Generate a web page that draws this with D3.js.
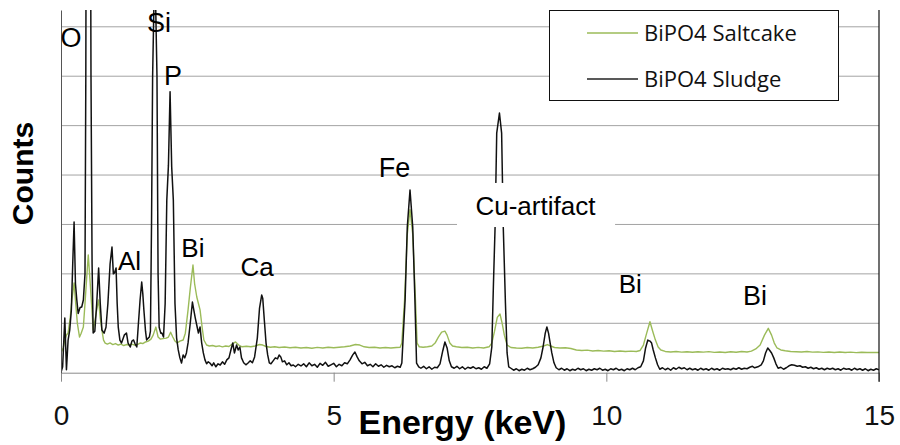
<!DOCTYPE html>
<html>
<head>
<meta charset="utf-8">
<script src="https://cdn.jsdelivr.net/npm/d3@7"></script>
<style>
  body { margin: 0; background: #fff; }
  svg { display: block; }
  text { font-family: "Liberation Sans", Arial, sans-serif; }
</style>
</head>
<body>
<svg id="chart" width="900" height="445"></svg>
<script>
// ---- data ----------------------------------------------------------------
const energyTicks = [0, 5, 10, 15];
const countGridValues = [500, 1000, 1500, 2000, 2500, 3000, 3500];
const seriesNames = ["BiPO4 Saltcake", "BiPO4 Sludge"];

// [energy keV, counts]
const saltcakeSpectrum = [
  [0.00,200],[0.04,250],[0.07,331],[0.10,380],[0.13,402],[0.17,560],[0.20,736],[0.24,908],[0.27,700],[0.30,500],
  [0.34,361],[0.37,400],[0.41,462],[0.44,700],[0.47,950],[0.50,1191],[0.53,950],[0.56,700],[0.59,432],[0.62,520],
  [0.655,635],[0.69,736],[0.72,550],[0.75,432],[0.78,330],[0.81,300],[0.85,290],[0.90,301],[0.95,285],[1.00,295],
  [1.05,280],[1.10,290],[1.15,275],[1.20,285],[1.25,280],[1.30,290],[1.35,278],[1.40,285],[1.45,300],[1.50,295],
  [1.55,311],[1.60,320],[1.65,340],[1.69,380],[1.74,462],[1.78,361],[1.82,340],[1.87,345],[1.93,350],[1.97,361],
  [2.01,410],[2.05,361],[2.09,320],[2.13,300],[2.18,320],[2.24,331],[2.28,400],[2.33,635],[2.37,850],[2.42,1090],
  [2.45,900],[2.49,766],[2.52,700],[2.55,635],[2.59,450],[2.62,331],[2.67,280],[2.72,270],[2.78,275],[2.84,265],
  [2.90,272],[2.96,262],[3.02,270],[3.08,265],[3.14,290],[3.20,311],[3.26,280],[3.32,262],[3.40,268],[3.48,262],
  [3.56,270],[3.64,285],[3.70,280],[3.76,265],[3.84,258],[3.92,262],[4.00,255],[4.10,260],[4.20,252],[4.30,258],
  [4.40,250],[4.50,255],[4.60,248],[4.70,256],[4.80,250],[4.90,258],[5.00,252],[5.10,258],[5.20,262],[5.30,270],
  [5.40,285],[5.48,280],[5.56,262],[5.65,255],[5.75,258],[5.85,250],[5.95,255],[6.05,250],[6.15,255],[6.22,258],
  [6.25,300],[6.30,736],[6.35,1400],[6.40,1650],[6.45,1400],[6.50,736],[6.53,300],[6.57,262],[6.64,258],[6.72,262],
  [6.80,270],[6.86,300],[6.92,360],[6.98,410],[7.04,420],[7.08,380],[7.13,300],[7.18,270],[7.25,262],[7.35,255],
  [7.45,258],[7.55,250],[7.65,256],[7.75,250],[7.85,262],[7.90,300],[7.95,420],[8.00,560],[8.05,594],[8.09,500],
  [8.13,380],[8.18,280],[8.25,255],[8.35,250],[8.45,248],[8.55,255],[8.65,250],[8.75,258],[8.85,270],[8.92,285],
  [8.98,270],[9.05,255],[9.15,250],[9.25,252],[9.35,245],[9.45,230],[9.55,225],[9.65,228],[9.75,220],[9.85,225],
  [9.95,218],[10.05,222],[10.15,215],[10.25,220],[10.35,214],[10.45,218],[10.55,215],[10.62,225],[10.68,280],[10.74,400],
  [10.80,516],[10.85,420],[10.90,330],[10.95,260],[11.00,230],[11.08,215],[11.18,210],[11.28,215],[11.38,208],[11.48,212],
  [11.58,207],[11.68,212],[11.78,208],[11.88,213],[11.98,206],[12.08,210],[12.18,205],[12.28,212],[12.38,207],[12.48,214],
  [12.58,210],[12.66,218],[12.74,240],[12.82,280],[12.90,380],[12.97,449],[13.03,380],[13.08,300],[13.13,250],[13.20,230],
  [13.28,222],[13.38,215],[13.48,212],[13.58,210],[13.68,214],[13.78,208],[13.88,211],[13.98,206],[14.08,210],[14.18,205],
  [14.28,209],[14.38,204],[14.48,208],[14.58,203],[14.68,207],[14.78,204],[14.88,206],[15.00,205]
];

const sludgeSpectrum = [
  [0.00,5],[0.03,60],[0.07,554],[0.10,30],[0.13,330],[0.16,430],[0.19,635],[0.215,1100],[0.24,1525],[0.265,900],
  [0.29,736],[0.315,600],[0.35,660],[0.38,665],[0.41,736],[0.44,1000],[0.455,3000],[0.47,7000],[0.50,9000],[0.53,7000],
  [0.55,3000],[0.57,1100],[0.59,402],[0.62,420],[0.655,700],[0.69,1060],[0.72,700],[0.75,432],[0.79,400],[0.825,460],
  [0.86,700],[0.90,1100],[0.935,1272],[0.96,1000],[0.98,1009],[1.01,1060],[1.03,700],[1.05,462],[1.08,330],[1.11,300],
  [1.16,380],[1.20,402],[1.23,300],[1.27,260],[1.30,320],[1.33,331],[1.36,290],[1.39,260],[1.42,500],[1.45,736],
  [1.48,918],[1.50,800],[1.52,635],[1.55,420],[1.57,331],[1.60,350],[1.62,361],[1.64,420],[1.66,1500],[1.68,3000],
  [1.72,4200],[1.76,3000],[1.78,1000],[1.80,460],[1.83,400],[1.85,402],[1.88,361],[1.91,700],[1.94,1746],[1.97,2100],
  [2.00,2844],[2.03,2080],[2.06,1746],[2.09,700],[2.12,350],[2.15,230],[2.18,150],[2.21,98],[2.24,180],[2.27,150],
  [2.30,200],[2.33,301],[2.37,500],[2.41,715],[2.43,650],[2.46,560],[2.49,480],[2.52,402],[2.55,462],[2.58,300],
  [2.61,200],[2.64,130],[2.67,90],[2.70,110],[2.73,98],[2.77,70],[2.80,100],[2.84,60],[2.88,90],[2.92,78],
  [2.96,110],[3.00,85],[3.04,130],[3.08,150],[3.12,240],[3.15,301],[3.18,200],[3.22,280],[3.25,230],[3.28,260],
  [3.31,150],[3.35,100],[3.39,80],[3.43,98],[3.47,120],[3.51,100],[3.55,160],[3.60,350],[3.64,650],[3.68,786],
  [3.70,750],[3.73,520],[3.76,300],[3.79,180],[3.82,100],[3.85,90],[3.89,120],[3.93,150],[3.97,140],[4.00,179],
  [4.03,160],[4.06,110],[4.10,120],[4.14,80],[4.18,100],[4.22,70],[4.26,78],[4.30,60],[4.35,85],[4.40,68],
  [4.45,90],[4.50,60],[4.55,100],[4.60,70],[4.65,85],[4.70,55],[4.75,95],[4.80,75],[4.85,105],[4.90,65],
  [4.95,80],[5.00,95],[5.05,60],[5.10,85],[5.15,70],[5.20,100],[5.25,90],[5.30,130],[5.35,180],[5.39,209],
  [5.43,160],[5.47,120],[5.52,90],[5.57,105],[5.62,70],[5.67,85],[5.72,60],[5.77,90],[5.82,65],[5.87,80],
  [5.92,55],[5.97,75],[6.02,60],[6.07,70],[6.12,50],[6.17,65],[6.22,55],[6.25,98],[6.31,736],[6.35,1474],
  [6.40,1849],[6.45,1474],[6.49,736],[6.52,98],[6.56,60],[6.60,45],[6.65,65],[6.70,40],[6.75,60],[6.80,35],
  [6.85,55],[6.90,50],[6.95,90],[7.00,220],[7.04,311],[7.08,250],[7.12,120],[7.16,60],[7.21,45],[7.26,65],
  [7.31,40],[7.36,60],[7.41,35],[7.46,55],[7.51,45],[7.56,60],[7.61,40],[7.66,50],[7.71,35],[7.76,60],
  [7.81,45],[7.86,90],[7.90,260],[7.93,900],[7.96,1474],[7.99,2424],[8.04,2628],[8.08,2424],[8.11,1474],[8.15,700],
  [8.18,200],[8.21,60],[8.25,45],[8.30,25],[8.35,40],[8.40,20],[8.45,35],[8.50,25],[8.55,45],[8.60,30],
  [8.65,40],[8.70,55],[8.75,80],[8.80,150],[8.84,260],[8.88,400],[8.91,462],[8.94,400],[8.97,300],[9.00,200],
  [9.04,100],[9.08,50],[9.13,30],[9.18,45],[9.23,25],[9.28,40],[9.33,20],[9.38,35],[9.43,25],[9.48,45],
  [9.53,30],[9.58,40],[9.63,20],[9.68,35],[9.73,25],[9.78,40],[9.83,30],[9.88,45],[9.93,25],[9.98,35],
  [10.03,20],[10.08,40],[10.13,30],[10.18,45],[10.23,25],[10.28,35],[10.33,20],[10.38,40],[10.43,30],[10.48,45],
  [10.53,30],[10.58,50],[10.63,60],[10.68,120],[10.72,250],[10.76,330],[10.80,320],[10.83,300],[10.86,230],[10.90,150],
  [10.94,80],[10.98,35],[11.03,50],[11.08,30],[11.13,45],[11.18,25],[11.23,50],[11.28,35],[11.33,55],[11.38,40],
  [11.43,50],[11.48,30],[11.53,45],[11.58,30],[11.63,40],[11.68,25],[11.73,45],[11.78,30],[11.83,40],[11.88,25],
  [11.93,45],[11.98,30],[12.03,40],[12.08,25],[12.13,45],[12.18,35],[12.23,40],[12.28,30],[12.33,45],[12.38,35],
  [12.43,50],[12.48,35],[12.53,45],[12.58,40],[12.63,55],[12.68,65],[12.72,50],[12.78,60],[12.84,80],[12.88,120],
  [12.92,200],[12.96,250],[12.99,230],[13.03,200],[13.07,150],[13.11,90],[13.15,45],[13.20,55],[13.25,35],[13.30,50],
  [13.35,70],[13.40,80],[13.45,75],[13.50,65],[13.55,70],[13.60,55],[13.65,60],[13.70,45],[13.75,55],[13.80,40],
  [13.85,50],[13.90,35],[13.95,45],[14.00,30],[14.05,45],[14.10,35],[14.15,45],[14.20,30],[14.25,40],[14.30,25],
  [14.35,45],[14.40,35],[14.45,40],[14.50,25],[14.55,45],[14.60,30],[14.65,40],[14.70,25],[14.75,40],[14.80,20],
  [14.85,35],[14.90,25],[14.95,40],[15.00,30]
];

// element annotations: text, anchor energy (keV) and baseline height (counts)
const peakLabels = [
  { text: "O",  keV: -0.01, counts: 3291, size: 27 },
  { text: "Si", keV: 1.577, counts: 3451, size: 27 },
  { text: "P",  keV: 1.889, counts: 2911, size: 27 },
  { text: "Al", keV: 1.045, counts: 1039, size: 26 },
  { text: "Bi", keV: 2.206, counts: 1174, size: 26 },
  { text: "Ca", keV: 3.290, counts: 982,  size: 26 },
  { text: "Fe", keV: 5.826, counts: 1980, size: 27 },
  { text: "Bi", keV: 10.227, counts: 803, size: 26 },
  { text: "Bi", keV: 12.507, counts: 685, size: 27 }
];
const artifactLabel = { text: "Cu-artifact", keV: 7.60, counts: 1596, size: 26,
                        box: { keV0: 7.262, keV1: 10.16, counts0: 1474, counts1: 1920 } };

// ---- layout --------------------------------------------------------------
const svg = d3.select("#chart");
const plot = { left: 61, right: 879, top: 10, bottom: 372.7 };

const x = d3.scaleLinear().domain([0, 15]).range([plot.left, plot.right]);
const y = d3.scaleLinear().domain([0, 3670]).range([plot.bottom, plot.top]);

svg.append("defs").append("clipPath").attr("id", "plot-clip")
  .append("rect")
  .attr("x", plot.left).attr("y", plot.top)
  .attr("width", plot.right - plot.left).attr("height", plot.bottom - plot.top);

// horizontal gridlines
svg.append("g").selectAll("line").data(countGridValues).join("line")
  .attr("x1", plot.left).attr("x2", plot.right)
  .attr("y1", d => y(d)).attr("y2", d => y(d))
  .attr("stroke", "#a3a3a3").attr("stroke-width", 1);

// spectra
const line = d3.line().x(d => x(d[0])).y(d => y(d[1]));
const lines = svg.append("g").attr("clip-path", "url(#plot-clip)")
  .attr("fill", "none").attr("stroke-linejoin", "round");
lines.append("path").datum(saltcakeSpectrum).attr("d", line)
  .attr("stroke", "#9bbb59").attr("stroke-width", 1.4);
lines.append("path").datum(sludgeSpectrum).attr("d", line)
  .attr("stroke", "#111").attr("stroke-width", 1.5);

// axes
const xAxis = svg.append("g").attr("transform", `translate(0,${plot.bottom})`)
  .call(d3.axisBottom(x).tickValues(energyTicks).tickSize(9).tickSizeOuter(0).tickFormat(d3.format("d")));
xAxis.select(".domain").attr("stroke", "#8a8a8a");
xAxis.selectAll(".tick line").attr("stroke", "#8a8a8a");
xAxis.selectAll(".tick text")
  .attr("y", 52).attr("dy", 0)
  .attr("fill", "#111")
  .style("font-size", "28px")
  .style("font-family", "'Liberation Sans', Arial, sans-serif");

const yAxis = svg.append("g").attr("transform", `translate(${plot.left},0)`)
  .call(d3.axisLeft(y).tickValues([]).tickSizeOuter(0));
yAxis.select(".domain").attr("stroke", "#555");

svg.append("line")
  .attr("x1", plot.right).attr("x2", plot.right)
  .attr("y1", plot.top).attr("y2", plot.bottom + 9)
  .attr("stroke", "#111").attr("stroke-width", 1.2);

// axis titles
svg.append("text")
  .attr("transform", "translate(33,173.5) rotate(-90)")
  .attr("text-anchor", "middle")
  .style("font-size", "30px").style("font-weight", "bold")
  .attr("fill", "#000")
  .text("Counts");

svg.append("text")
  .attr("x", 358.5).attr("y", 434)
  .style("font-size", "34px").style("font-weight", "bold")
  .attr("fill", "#000")
  .text("Energy (keV)");

// element labels
svg.append("g").selectAll("text").data(peakLabels).join("text")
  .attr("x", d => x(d.keV)).attr("y", d => y(d.counts))
  .style("font-size", d => d.size + "px")
  .attr("fill", "#000")
  .text(d => d.text);

// Cu artifact label sits on a white panel
const b = artifactLabel.box;
svg.append("rect")
  .attr("x", x(b.keV0)).attr("width", x(b.keV1) - x(b.keV0))
  .attr("y", y(b.counts1)).attr("height", y(b.counts0) - y(b.counts1))
  .attr("fill", "#fff");
svg.append("text")
  .attr("x", x(artifactLabel.keV)).attr("y", y(artifactLabel.counts))
  .style("font-size", artifactLabel.size + "px")
  .attr("fill", "#000")
  .text(artifactLabel.text);

// legend
const legend = svg.append("g");
legend.append("rect")
  .attr("x", 549.5).attr("y", 10.5).attr("width", 289).attr("height", 90)
  .attr("fill", "#fff").attr("stroke", "#111").attr("stroke-width", 1);
const legendColors = ["#9bbb59", "#222"];
seriesNames.forEach((name, i) => {
  const cy = 33 + i * 46;
  legend.append("line")
    .attr("x1", 587).attr("x2", 638).attr("y1", cy).attr("y2", cy)
    .attr("stroke", legendColors[i]).attr("stroke-width", 1.3);
  legend.append("text")
    .attr("x", 644).attr("y", cy + 8)
    .style("font-family", "'Open Sans', sans-serif")
    .style("font-size", "22px")
    .attr("fill", "#111")
    .text(name);
});
</script>
</body>
</html>
